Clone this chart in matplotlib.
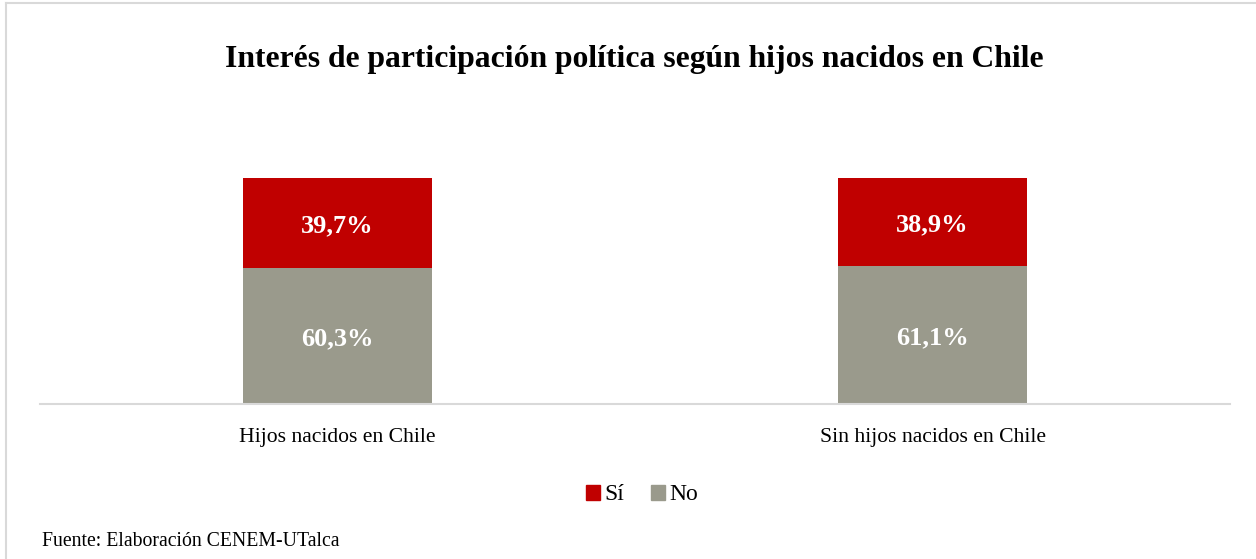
import matplotlib.pyplot as plt
from matplotlib.lines import Line2D
from matplotlib.patches import Patch

plt.rcParams["font.family"] = ["Liberation Serif", "DejaVu Serif"]

categorias = ["Hijos nacidos en Chile", "Sin hijos nacidos en Chile"]
no_vals = [60.3, 61.1]
si_vals = [39.7, 38.9]
rojo = "#C00000"
gris = "#9A9A8C"

fig = plt.figure(figsize=(12.56, 5.59), dpi=100)
ax = fig.add_axes([40 / 1256, 155 / 559, 1190 / 1256, 226 / 559])

x = range(len(categorias))
ancho = 0.316
b_no = ax.bar(x, no_vals, width=ancho, color=gris, label="No")
b_si = ax.bar(x, si_vals, width=ancho, bottom=no_vals, color=rojo, label="Sí")

for barras in (b_no, b_si):
    for r in barras:
        v = r.get_height()
        ax.text(r.get_x() + r.get_width() / 2, r.get_y() + v / 2,
                f"{v:.1f}%".replace(".", ","), ha="center", va="center_baseline",
                color="white", fontsize=19, fontweight="bold")

ax.set_xlim(-0.5, 1.5)
ax.set_ylim(0, 100)
ax.set_yticks([])
ax.set_xticks(list(x))
ax.set_xticklabels(categorias, fontsize=15.6)
ax.tick_params(axis="x", length=0, pad=17)
for lado in ("top", "right", "left"):
    ax.spines[lado].set_visible(False)
ax.spines["bottom"].set_color("#d9d9d9")
ax.spines["bottom"].set_linewidth(1.5)

fig.text(634 / 1256, 1 - 59 / 559, "Interés de participación política según hijos nacidos en Chile",
         ha="center", va="center", fontsize=22.8, fontweight="bold")

leyenda = [Patch(color=rojo, label="Sí"), Patch(color=gris, label="No")]
fig.legend(handles=leyenda, loc="center", bbox_to_anchor=(642 / 1256, 1 - 495 / 559),
           ncol=2, frameon=False, fontsize=17, handlelength=0.6, handleheight=0.6,
           handletextpad=0.2, columnspacing=1.1, borderpad=0)

fig.text(42 / 1256, 1 - 541 / 559, "Fuente: Elaboración CENEM-UTalca",
         ha="left", va="center", fontsize=14.2)

# marco del grafico
fig.add_artist(Line2D([6 / 1256, 6 / 1256], [0, 1 - 3 / 559], color="#d9d9d9", lw=1.5))
fig.add_artist(Line2D([6 / 1256, 1], [1 - 3 / 559, 1 - 3 / 559], color="#d9d9d9", lw=1.5))

fig.savefig("out.png", dpi=100)
